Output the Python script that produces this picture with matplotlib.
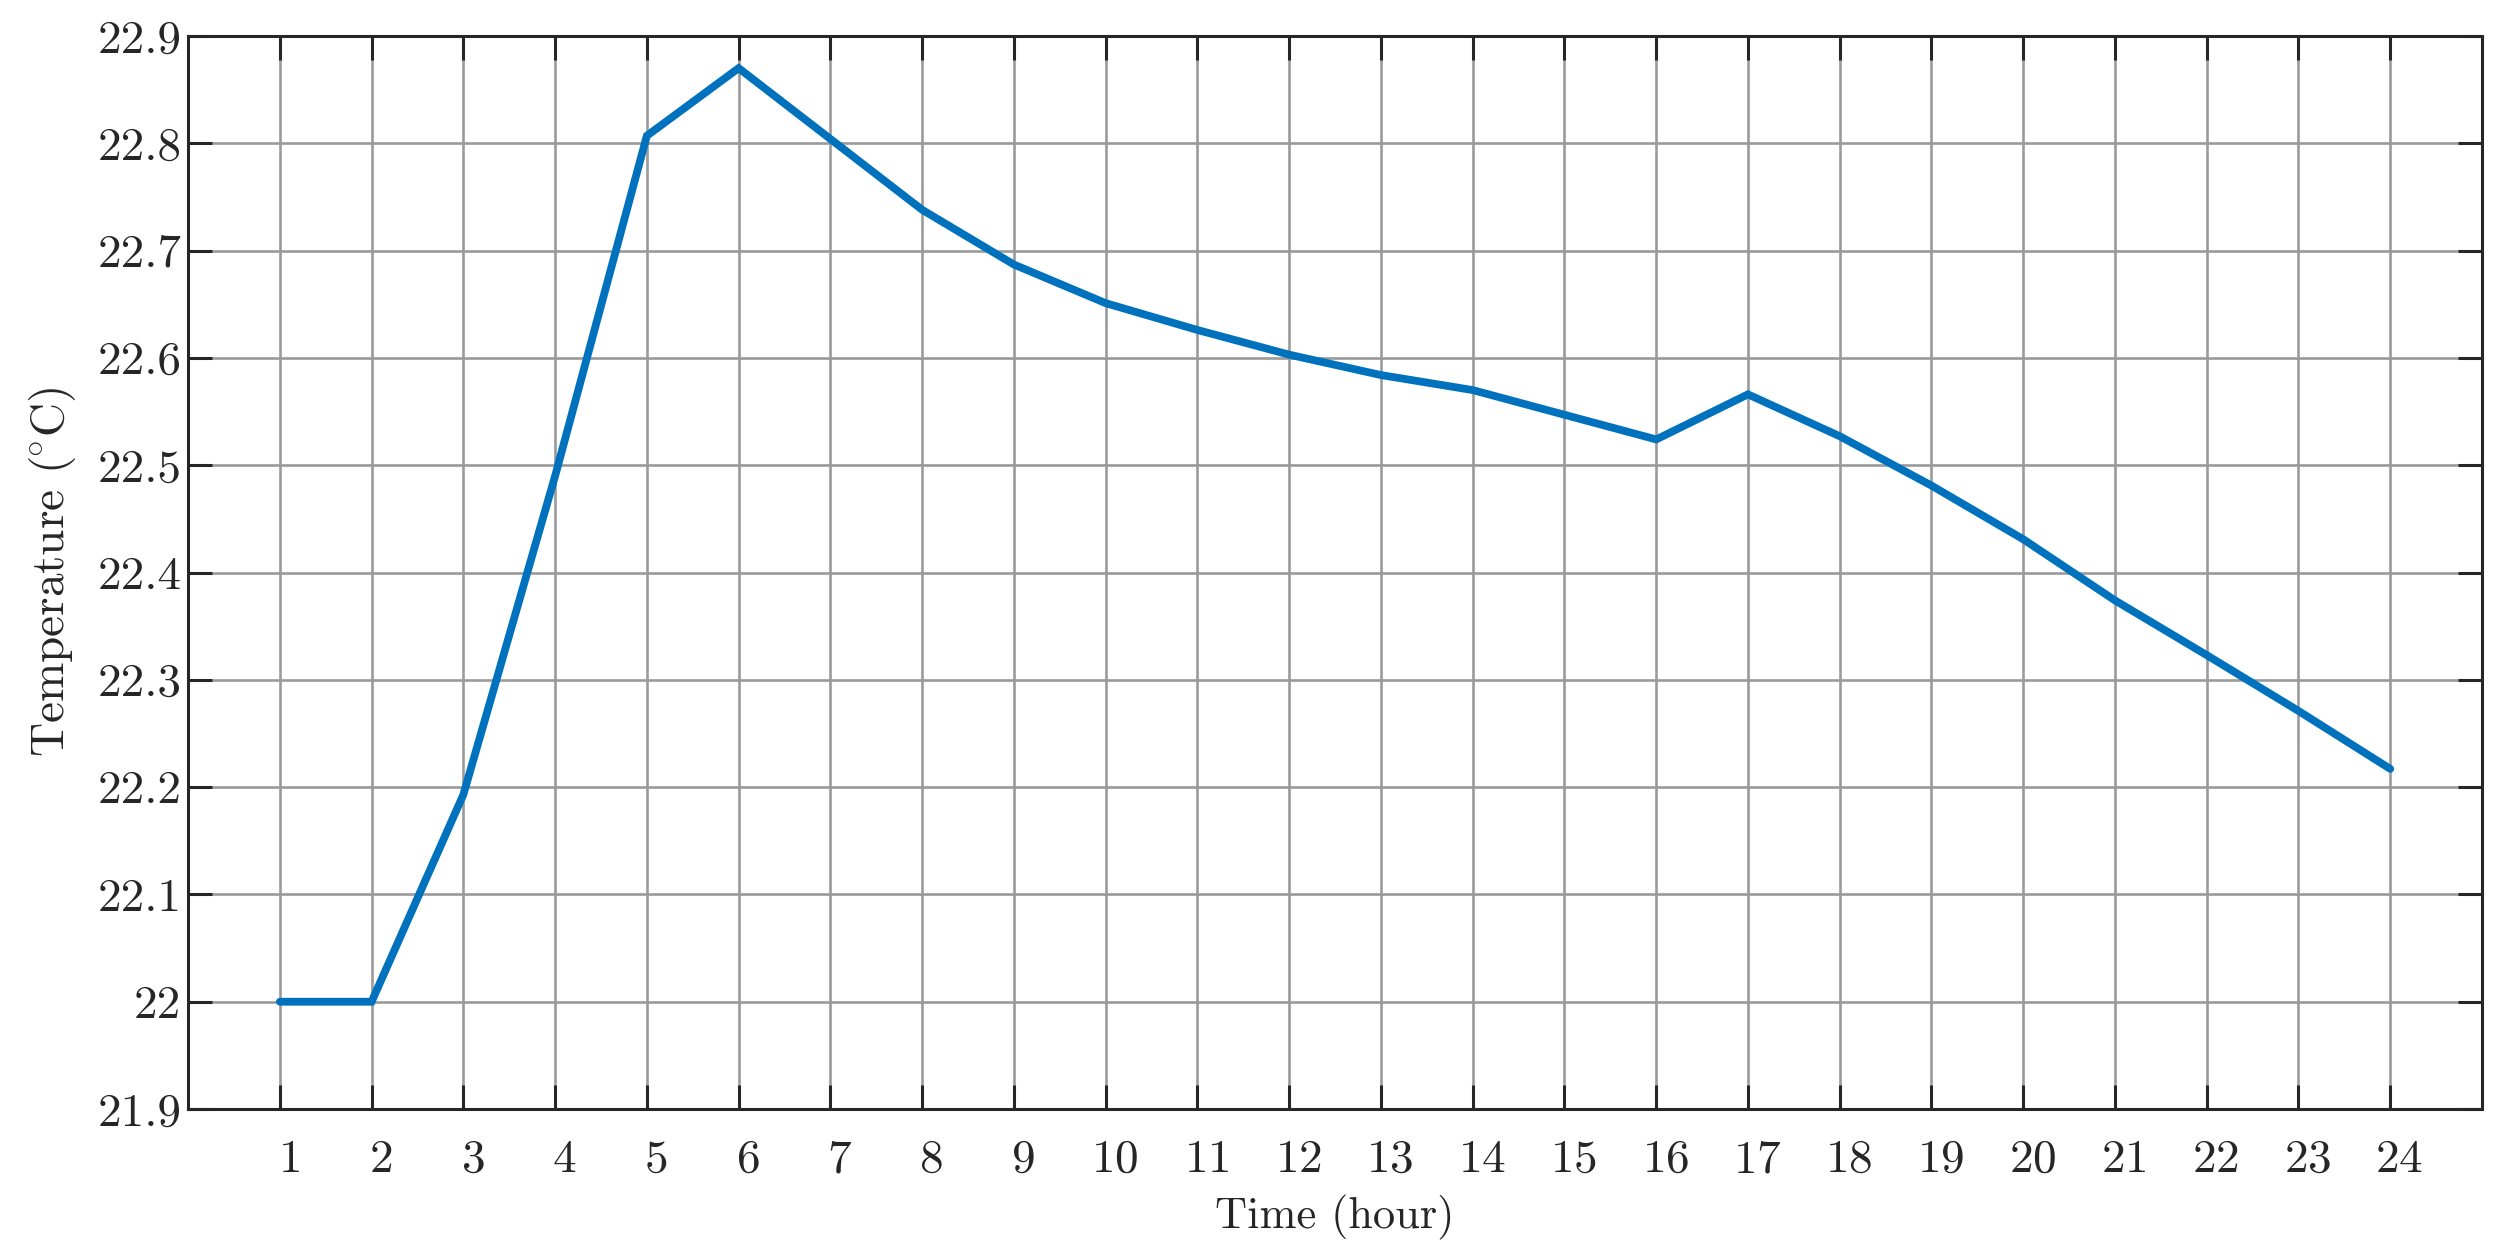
import matplotlib
matplotlib.use("Agg")
import matplotlib.pyplot as plt
import matplotlib.transforms as mtransforms
from matplotlib.ticker import FuncFormatter, MultipleLocator

# hourly temperature readings
hours = list(range(1, 25))
temperature = [22.000, 22.000, 22.193, 22.490, 22.807, 22.870, 22.804, 22.738,
               22.687, 22.651, 22.626, 22.603, 22.584, 22.570, 22.547, 22.524,
               22.566, 22.527, 22.481, 22.431, 22.374, 22.323, 22.271, 22.217]

x_label = "Time (hour)"
y_label = r"Temperature ($\hspace{-0.08}^{\circ}$C)"

plt.rcParams['font.family'] = ['cmr10', 'DejaVu Serif']
plt.rcParams['mathtext.fontset'] = 'cm'
plt.rcParams['axes.formatter.use_mathtext'] = True

fig = plt.figure(figsize=(25.18, 12.57), dpi=100)
ax = fig.add_axes([0.0747, 0.1177, 0.911, 0.8537])

ax.plot(hours, temperature, color='#0072BD', linewidth=5.6, zorder=3,
        solid_joinstyle='miter', solid_capstyle='round')

ax.set_xlim(0, 25)
ax.set_ylim(21.9, 22.9)
ax.set_xticks(hours)
ax.yaxis.set_major_locator(MultipleLocator(0.1))
ax.yaxis.set_major_formatter(FuncFormatter(lambda v, p: f"{v:.10g}" if abs(v - round(v)) > 1e-9 else f"{int(round(v))}"))

ax.grid(True, color='#9a9a9a', linewidth=1.9, zorder=0)
ax.set_axisbelow(True)

for s in ax.spines.values():
    s.set_color('#262626')
    s.set_linewidth(2.2)

ax.tick_params(axis='both', which='major', direction='in', length=17,
               width=2.2, color='#262626', labelcolor='#262626',
               labelsize=34, top=True, right=True)
ax.tick_params(axis='x', pad=22)
ax.tick_params(axis='y', pad=5)

# shift x tick labels slightly right, like the source
offset = mtransforms.ScaledTranslation(9 / 100, 0, fig.dpi_scale_trans)
for lab in ax.get_xticklabels():
    lab.set_transform(lab.get_transform() + offset)

ax.set_xlabel(x_label, fontsize=32, color='#262626', labelpad=10)
ax.set_ylabel(y_label, fontsize=34, color='#262626', labelpad=14)

fig.savefig("out.png", dpi=100, facecolor='white')
